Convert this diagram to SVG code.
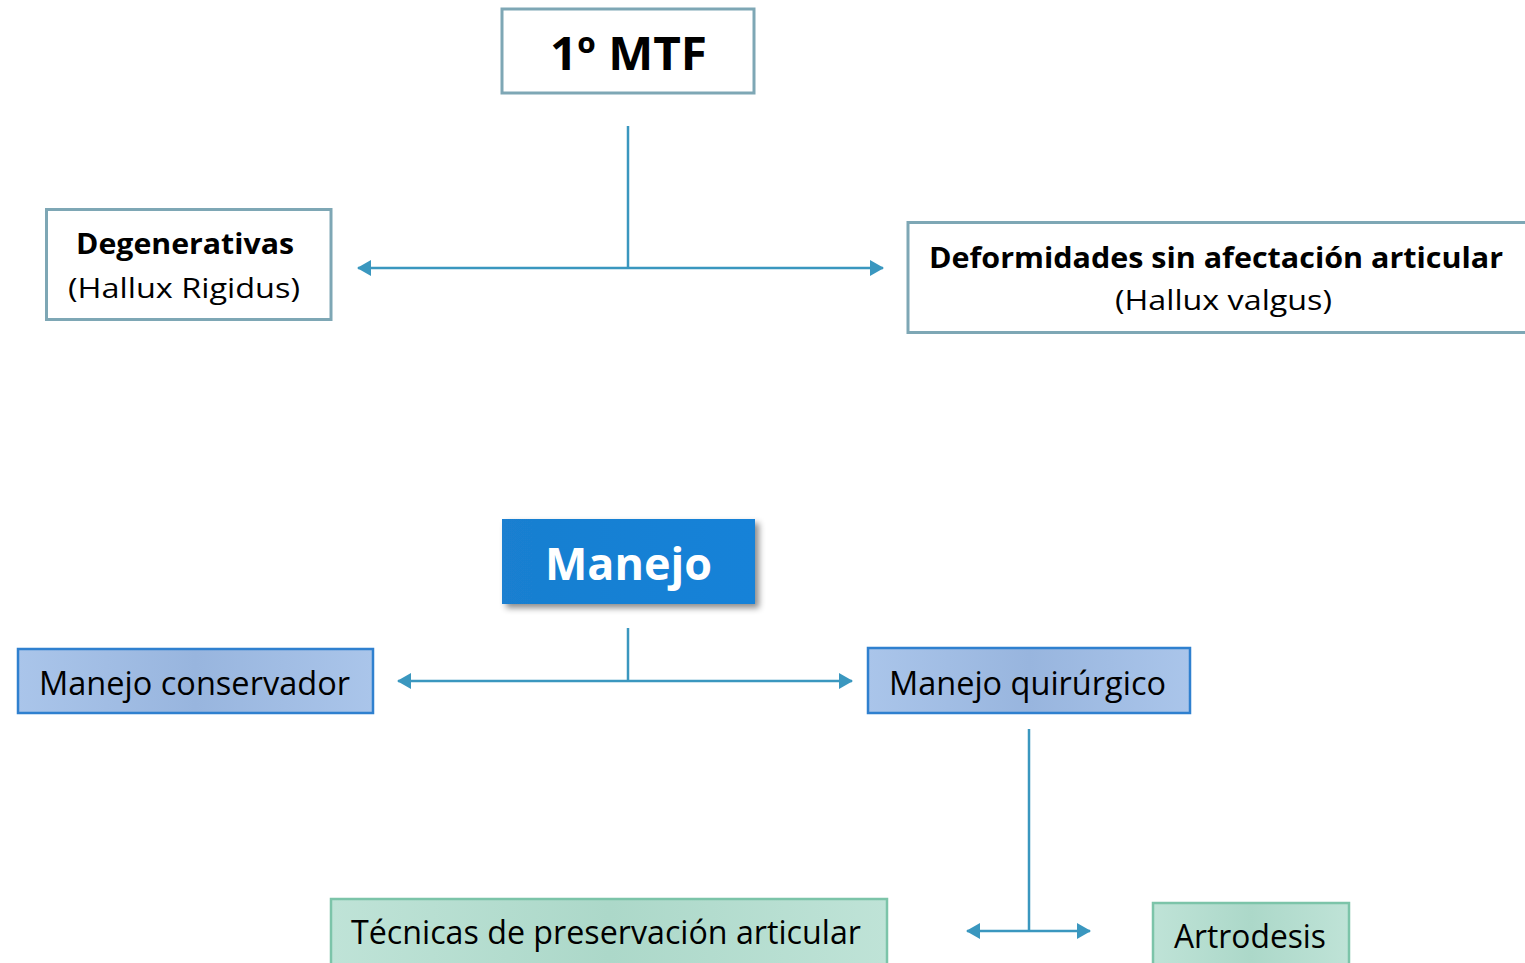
<svg xmlns="http://www.w3.org/2000/svg" width="1525" height="963" viewBox="0 0 1525 963">
<style>
.outline{fill:#ffffff;stroke:#7ea7b5;stroke-width:3}
.blue{fill:url(#gBlue);stroke:#2f80cf;stroke-width:2.5}
.green{fill:url(#gGreen);stroke:#7cc4a9;stroke-width:2.5}
.t{font-family:"Open Sans","Noto Sans","Liberation Sans",sans-serif;fill:#000;text-anchor:middle}
.b{font-weight:bold}
.conn{stroke:#3a97bf;stroke-width:2.5;fill:none}
</style>
<defs>
<linearGradient id="gBlue" x1="0" y1="0" x2="1" y2="0">
<stop offset="0" stop-color="#aac5ea"/><stop offset="0.5" stop-color="#98b5de"/><stop offset="1" stop-color="#aac5ea"/>
</linearGradient>
<linearGradient id="gGreen" x1="0" y1="0" x2="1" y2="0">
<stop offset="0" stop-color="#bfe3d7"/><stop offset="0.5" stop-color="#acd8c9"/><stop offset="1" stop-color="#bfe3d7"/>
</linearGradient>
<linearGradient id="gMan" x1="0" y1="0" x2="1" y2="0">
<stop offset="0" stop-color="#1a7fd0"/><stop offset="1" stop-color="#1282d8"/>
</linearGradient>
<filter id="sh" x="-10%" y="-20%" width="130%" height="150%">
<feDropShadow dx="4" dy="4" stdDeviation="3" flood-color="#000" flood-opacity="0.45"/>
</filter>
<marker id="arr" viewBox="0 0 14 16" refX="13" refY="8" markerWidth="14" markerHeight="16" markerUnits="userSpaceOnUse" orient="auto-start-reverse">
<path d="M0,0 L14,8 L0,16 Z" fill="#3a97bf"/>
</marker>
</defs>

<g id="connectors">
<line class="conn" x1="628" y1="126" x2="628" y2="268"/>
<line class="conn" x1="358" y1="268" x2="883" y2="268" marker-start="url(#arr)" marker-end="url(#arr)"/>
<line class="conn" x1="628" y1="628" x2="628" y2="681"/>
<line class="conn" x1="398" y1="681" x2="852" y2="681" marker-start="url(#arr)" marker-end="url(#arr)"/>
<line class="conn" x1="1029" y1="729" x2="1029" y2="931"/>
<line class="conn" x1="967" y1="931" x2="1090" y2="931" marker-start="url(#arr)" marker-end="url(#arr)"/>
</g>

<g id="node-mtf">
<rect class="outline" x="502" y="9" width="252" height="84"/>
<text class="t b" x="628.5" y="70" font-size="46" textLength="157" lengthAdjust="spacingAndGlyphs">1º MTF</text>
</g>

<g id="node-degenerativas">
<rect class="outline" x="46.5" y="209.5" width="284.5" height="110"/>
<text class="t b" x="185" y="254" font-size="28" textLength="218" lengthAdjust="spacingAndGlyphs">Degenerativas</text>
<text class="t" x="184" y="298" font-size="28" textLength="232" lengthAdjust="spacingAndGlyphs">(Hallux Rigidus)</text>
</g>

<g id="node-deformidades">
<rect class="outline" x="908" y="222.5" width="630" height="110"/>
<text class="t b" x="1216" y="268" font-size="28" textLength="574" lengthAdjust="spacingAndGlyphs">Deformidades sin afectación articular</text>
<text class="t" x="1223.5" y="310" font-size="28" textLength="217" lengthAdjust="spacingAndGlyphs">(Hallux valgus)</text>
</g>

<g id="node-manejo">
<rect x="502" y="519" width="253" height="85" fill="url(#gMan)" filter="url(#sh)"/>
<text class="t b" x="628.5" y="580" font-size="45" fill="#ffffff" style="fill:#ffffff" textLength="167" lengthAdjust="spacingAndGlyphs">Manejo</text>
</g>

<g id="node-conservador">
<rect class="blue" x="18" y="649" width="355" height="64"/>
<text class="t" x="194.5" y="695" font-size="33" textLength="311" lengthAdjust="spacingAndGlyphs">Manejo conservador</text>
</g>

<g id="node-quirurgico">
<rect class="blue" x="868" y="648" width="322" height="65"/>
<text class="t" x="1027.5" y="695" font-size="33" textLength="277" lengthAdjust="spacingAndGlyphs">Manejo quirúrgico</text>
</g>

<g id="node-tecnicas">
<rect class="green" x="331" y="899" width="556" height="80"/>
<text class="t" x="606" y="944" font-size="33" textLength="510" lengthAdjust="spacingAndGlyphs">Técnicas de preservación articular</text>
</g>

<g id="node-artrodesis">
<rect class="green" x="1153" y="903" width="196" height="80"/>
<text class="t" x="1250" y="948" font-size="33" textLength="152" lengthAdjust="spacingAndGlyphs">Artrodesis</text>
</g>
</svg>
